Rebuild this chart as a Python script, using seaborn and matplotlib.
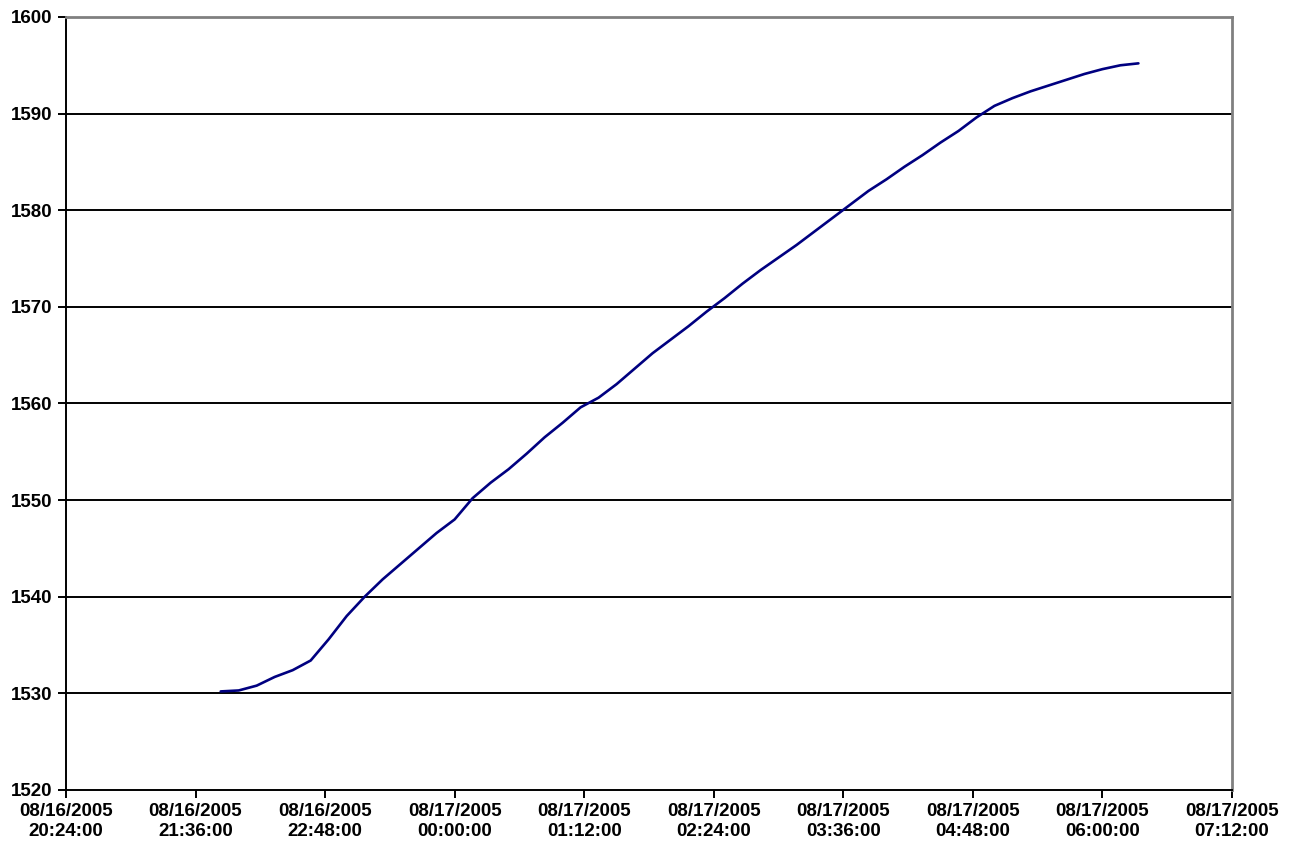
import matplotlib
matplotlib.use("Agg")
import matplotlib.pyplot as plt
import matplotlib.dates as mdates
import pandas as pd
import seaborn as sns

# Readings (time of day, value)
times = [
    "2005-08-16 21:50", "2005-08-16 22:00", "2005-08-16 22:10", "2005-08-16 22:20",
    "2005-08-16 22:30", "2005-08-16 22:40", "2005-08-16 22:50", "2005-08-16 23:00",
    "2005-08-16 23:10", "2005-08-16 23:20", "2005-08-16 23:30", "2005-08-16 23:40",
    "2005-08-16 23:50", "2005-08-17 00:00", "2005-08-17 00:10", "2005-08-17 00:20",
    "2005-08-17 00:30", "2005-08-17 00:40", "2005-08-17 00:50", "2005-08-17 01:00",
    "2005-08-17 01:10", "2005-08-17 01:20", "2005-08-17 01:30", "2005-08-17 01:40",
    "2005-08-17 01:50", "2005-08-17 02:00", "2005-08-17 02:10", "2005-08-17 02:20",
    "2005-08-17 02:30", "2005-08-17 02:40", "2005-08-17 02:50", "2005-08-17 03:00",
    "2005-08-17 03:10", "2005-08-17 03:20", "2005-08-17 03:30", "2005-08-17 03:40",
    "2005-08-17 03:50", "2005-08-17 04:00", "2005-08-17 04:10", "2005-08-17 04:20",
    "2005-08-17 04:30", "2005-08-17 04:40", "2005-08-17 04:50", "2005-08-17 05:00",
    "2005-08-17 05:10", "2005-08-17 05:20", "2005-08-17 05:30", "2005-08-17 05:40",
    "2005-08-17 05:50", "2005-08-17 06:00", "2005-08-17 06:10", "2005-08-17 06:20",
]
values = [
    1530.2, 1530.3, 1530.8, 1531.7, 1532.4, 1533.4, 1535.6, 1538.0,
    1540.0, 1541.8, 1543.4, 1545.0, 1546.6, 1548.0, 1550.2, 1551.8,
    1553.2, 1554.8, 1556.5, 1558.0, 1559.6, 1560.6, 1562.0, 1563.6,
    1565.2, 1566.6, 1568.0, 1569.5, 1570.9, 1572.4, 1573.8, 1575.1,
    1576.4, 1577.8, 1579.2, 1580.6, 1582.0, 1583.2, 1584.5, 1585.7,
    1587.0, 1588.2, 1589.6, 1590.8, 1591.6, 1592.3, 1592.9, 1593.5,
    1594.1, 1594.6, 1595.0, 1595.2,
]

x_start = "2005-08-16 20:24"
x_end = "2005-08-17 07:12"
y_ticks = [1520, 1530, 1540, 1550, 1560, 1570, 1580, 1590, 1600]

df = pd.DataFrame({"time": pd.to_datetime(times), "value": values})

sns.set_style("white")
plt.rcParams["font.family"] = ["Liberation Sans", "DejaVu Sans"]

fig = plt.figure(figsize=(12.96, 8.57), dpi=100)
ax = fig.add_axes([0.0509, 0.0782, 0.8997, 0.902])

sns.lineplot(data=df, x="time", y="value", color="#000080", lw=1.9, ax=ax)

ax.set_xlim(pd.Timestamp(x_start), pd.Timestamp(x_end))
ax.set_ylim(1520, 1600)
ax.set_yticks(y_ticks)
ax.set_xticks(pd.date_range(x_start, x_end, freq="72min"))
ax.xaxis.set_major_formatter(mdates.DateFormatter("%m/%d/%Y\n%H:%M:%S"))

# horizontal gridlines
for v in y_ticks[1:-1]:
    ax.axhline(v, color="black", lw=1.4, zorder=1)

for side in ["left", "bottom"]:
    ax.spines[side].set_color("black")
    ax.spines[side].set_linewidth(1.4)
for side in ["top", "right"]:
    ax.spines[side].set_color("#808080")
    ax.spines[side].set_linewidth(2)

ax.tick_params(axis="both", direction="out", length=6, width=1.4, color="black",
               bottom=True, left=True, labelsize=13.5, labelcolor="black")
for lab in ax.get_xticklabels() + ax.get_yticklabels():
    lab.set_fontweight("bold")
for lab in ax.get_xticklabels():
    lab.set_horizontalalignment("center")

ax.set_xlabel("")
ax.set_ylabel("")

plt.savefig("out.png", dpi=100)
